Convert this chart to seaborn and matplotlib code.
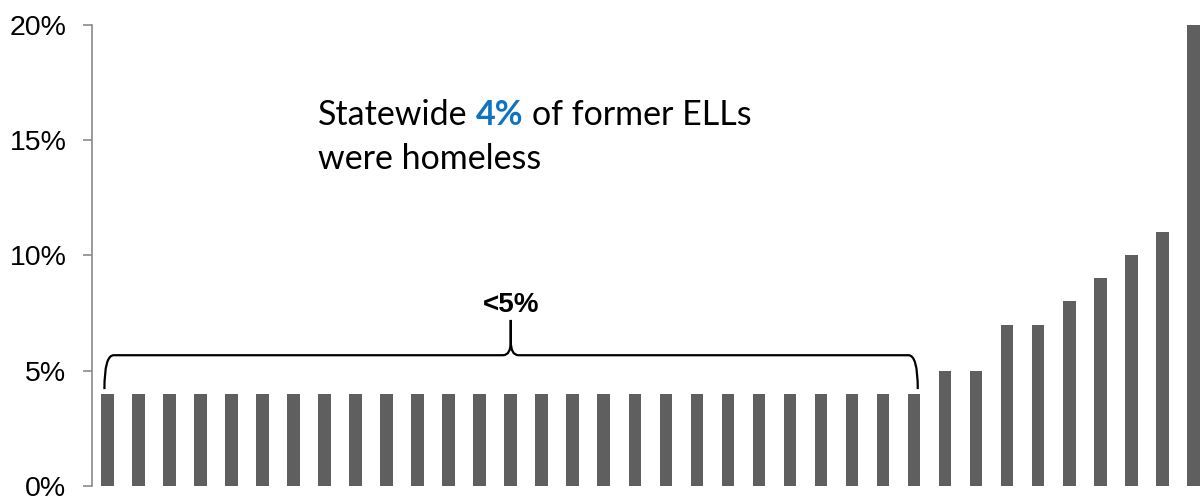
import matplotlib
matplotlib.use("Agg")
import matplotlib.pyplot as plt
import seaborn as sns
import pandas as pd
from matplotlib.path import Path
from matplotlib.patches import PathPatch

# ---- data ----
districts = [f"District {i+1}" for i in range(36)]
pct_homeless = [4, 4, 4, 4, 4, 4, 4, 4, 4, 4, 4, 4, 4, 4, 4, 4, 4, 4, 4, 4, 4, 4, 4, 4, 4, 4, 4,
                5, 5, 7, 7, 8, 9, 10, 11, 20]
y_ticks = [0, 5, 10, 15, 20]
y_tick_labels = ["0%", "5%", "10%", "15%", "20%"]
bracket_label = "<5%"
n_below5 = 27

df = pd.DataFrame({"district": districts, "pct": pct_homeless})

sns.set_style("white")
plt.rcParams["font.family"] = ["Liberation Sans", "DejaVu Sans"]

W, H = 1201, 497
fig = plt.figure(figsize=(W / 100, H / 100), dpi=100)
ax = fig.add_axes([92 / W, 11 / H, 1109 / W, 461.3 / H])

sns.barplot(data=df, x="district", y="pct", color="#5f5f5f", saturation=1,
            width=0.41, ax=ax, edgecolor="none")

ax.set_xlim(-0.5, 35.25)
ax.set_ylim(0, 20)
ax.set_yticks(y_ticks)
ax.set_yticklabels(y_tick_labels, fontsize=20.5, color="black")
ax.set_xticks([])
ax.set_xlabel("")
ax.set_ylabel("")
for s in ["top", "right", "bottom"]:
    ax.spines[s].set_visible(False)
ax.spines["left"].set_color("#8a8a8a")
ax.spines["left"].set_linewidth(1.2)
ax.tick_params(axis="y", direction="out", length=6.5, width=1.2, color="#8a8a8a",
               pad=12, left=True)

# ---- brace over the <5% group ----
x0, x1 = -0.1, n_below5 - 1 + 0.12
xm = (n_below5 - 1) / 2
y_end, y_h, y_peak = 4.2, 5.67, 7.2
verts = [
    (x0, y_end), (x0, y_h), (x0 + 0.3, y_h),
    (xm - 0.25, y_h),
    (xm, y_h), (xm, y_h + 0.6),
    (xm, y_peak),
    (xm, y_h + 0.6),
    (xm, y_h), (xm + 0.25, y_h),
    (x1 - 0.3, y_h),
    (x1, y_h), (x1, y_end),
]
codes = [Path.MOVETO, Path.CURVE3, Path.CURVE3,
         Path.LINETO,
         Path.CURVE3, Path.CURVE3,
         Path.LINETO,
         Path.LINETO,
         Path.CURVE3, Path.CURVE3,
         Path.LINETO,
         Path.CURVE3, Path.CURVE3]
ax.add_patch(PathPatch(Path(verts, codes), facecolor="none", edgecolor="black",
                       linewidth=1.6, clip_on=False))
ax.text(xm, 7.55, bracket_label, ha="center", va="baseline", fontsize=20,
        fontweight="bold", color="black")

# ---- statewide annotation ----
fig.canvas.draw()
renderer = fig.canvas.get_renderer()
fam = ["Lato", "DejaVu Sans"]
fs = 24.5
bx = 318 / W
by1 = (H - 125) / H
by2 = (H - 169) / H

def width_px(s, **kw):
    t = fig.text(0, 0, s, fontsize=fs, family=fam, **kw)
    w = t.get_window_extent(renderer).width
    t.remove()
    return w

space = width_px("a a") - width_px("aa")
t1 = fig.text(bx, by1, "Statewide", fontsize=fs, family=fam, va="baseline", color="black")
x = bx + (t1.get_window_extent(renderer).width + space) / W
t2 = fig.text(x, by1, "4%", fontsize=fs, family=fam, fontweight="bold",
              va="baseline", color="#0F73C3")
x = x + (t2.get_window_extent(renderer).width + space) / W
fig.text(x, by1, "of former ELLs", fontsize=fs, family=fam, va="baseline", color="black")
fig.text(bx, by2, "were homeless", fontsize=fs, family=fam, va="baseline", color="black")

fig.savefig("out.png", dpi=100)
